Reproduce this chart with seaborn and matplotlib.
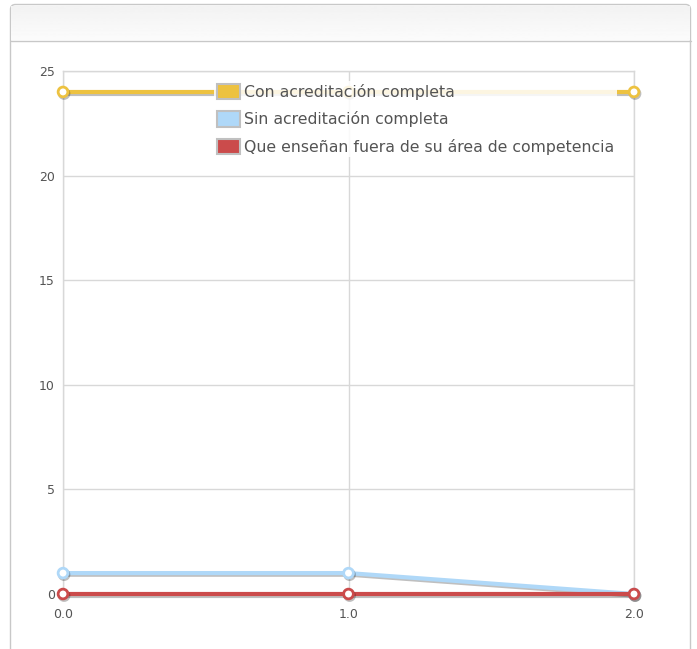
import matplotlib
matplotlib.use('Agg')
import matplotlib.pyplot as plt
import matplotlib.patheffects as pe
from matplotlib.patches import Patch, FancyBboxPatch
import numpy as np
import pandas as pd
import seaborn as sns

# Chart data
x_values = [0.0, 1.0, 2.0]
series_names = ['Con acreditación completa', 'Sin acreditación completa',
                'Que enseñan fuera de su área de competencia']
con_acreditacion = [24, 24, 24]
sin_acreditacion = [1, 1, 0]
fuera_de_area = [0, 0, 0]
colors = ['#edc240', '#afd8f8', '#cb4b4b']
y_ticks = [0, 5, 10, 15, 20, 25]
x_ticks = [0.0, 1.0, 2.0]

df = pd.DataFrame({
    'x': x_values * 3,
    'value': con_acreditacion + sin_acreditacion + fuera_de_area,
    'serie': [s for s in series_names for _ in x_values],
})

sns.set_style('white')
plt.rcParams['font.family'] = ['DejaVu Sans']

W, H = 697, 649
fig = plt.figure(figsize=(W / 100, H / 100), dpi=100)

# background panel (pixel coordinates, top-left origin)
bg = fig.add_axes([0, 0, 1, 1], zorder=-10)
bg.axis('off')
bg.add_patch(FancyBboxPatch((10.5, 4.5), 680, 660,
                            boxstyle='round,pad=0,rounding_size=5',
                            facecolor='white', edgecolor='#c8c8c8', linewidth=1))
grad = np.linspace(0.95, 0.985, 50).reshape(-1, 1)
bg.imshow(grad, aspect='auto', cmap='gray', vmin=0, vmax=1,
          extent=[11, 690, 40, 6], zorder=1)
bg.plot([10.5, 690.5], [40.5, 40.5], color='#c8c8c8', linewidth=1, zorder=2)
bg.set_xlim(0, W)
bg.set_ylim(H, 0)

ax = fig.add_axes([63 / W, 55 / H, 571 / W, 523 / H])
ax.patch.set_alpha(0)
sns.lineplot(data=df, x='x', y='value', hue='serie', palette=colors,
             hue_order=series_names, ax=ax, linewidth=3, marker='o',
             markersize=7, markerfacecolor='white', markeredgewidth=2,
             legend=False, zorder=3)
for line, c in zip(ax.get_lines(), colors):
    line.set_markeredgecolor(c)
    line.set_clip_on(False)
    line.set_path_effects([pe.SimpleLineShadow(offset=(0.8, -1.2), alpha=0.25),
                           pe.Normal()])

ax.set_xlim(0, 2)
ax.set_ylim(0, 25)
ax.set_xticks(x_ticks)
ax.set_xticklabels([f'{v:.1f}' for v in x_ticks])
ax.set_yticks(y_ticks)
ax.grid(True, color='#d8d8d8', linewidth=1)
ax.set_axisbelow(True)
for sp in ax.spines.values():
    sp.set_color('#d8d8d8')
    sp.set_linewidth(1)
ax.tick_params(axis='both', colors='#d8d8d8', labelcolor='#545454',
               labelsize=9, length=0)
ax.tick_params(axis='x', pad=10)
ax.tick_params(axis='y', pad=6)
ax.set_xlabel('')
ax.set_ylabel('')

handles = [Patch(facecolor=c, edgecolor='#c0c0c0', linewidth=1.5) for c in colors]
leg = ax.legend(handles, series_names, loc='upper left',
                bbox_to_anchor=(0.265, 0.98), frameon=True, fontsize=11.3,
                handlelength=1.5, handleheight=1.15, handletextpad=0.25,
                labelspacing=0.72, borderpad=0.15, borderaxespad=0)
leg.get_frame().set_facecolor('white')
leg.get_frame().set_alpha(0.85)
leg.get_frame().set_edgecolor('none')
for t in leg.get_texts():
    t.set_color('#545454')

fig.savefig('out.png', dpi=100)
